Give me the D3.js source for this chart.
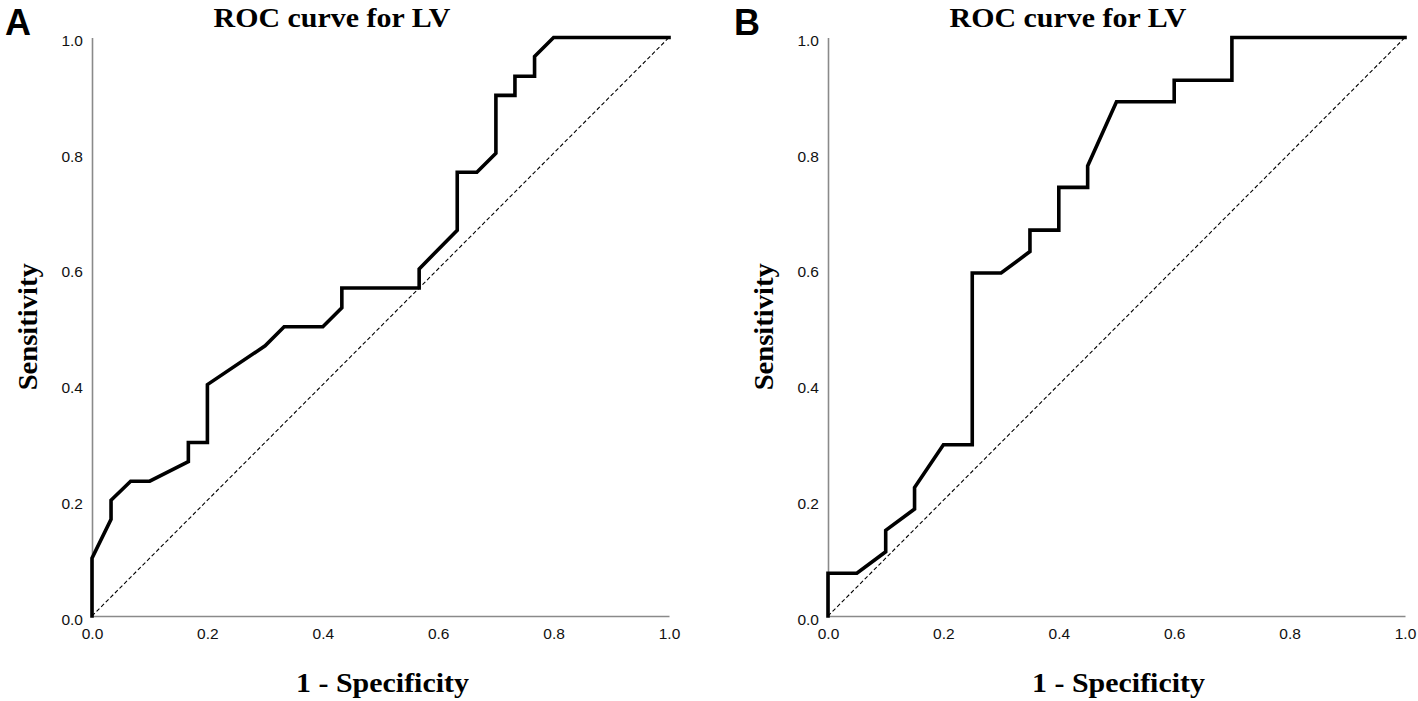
<!DOCTYPE html>
<html>
<head>
<meta charset="utf-8">
<script src="https://cdn.jsdelivr.net/npm/d3@7"></script>
<style>
  html, body { margin: 0; padding: 0; background: #fff; }
  svg { display: block; }
</style>
</head>
<body>
<svg id="chart" width="1418" height="701"></svg>
<script>
// ---- Data ----
const panelLetters = ["A", "B"];
const panelTitles = ["ROC curve for LV", "ROC curve for LV"];
const xAxisTitle = "1 - Specificity";
const yAxisTitle = "Sensitivity";
const tickValues = [0, 0.2, 0.4, 0.6, 0.8, 1.0];

// Panel A ROC curve (1 - specificity, sensitivity)
const rocA_fpr = [0, 0, 0.033, 0.033, 0.067, 0.1, 0.167, 0.167, 0.2, 0.2, 0.3, 0.333, 0.4, 0.433, 0.433, 0.567, 0.567, 0.633, 0.633, 0.667, 0.7, 0.7, 0.733, 0.733, 0.767, 0.767, 0.8, 1.0];
const rocA_tpr = [0, 0.1, 0.167, 0.2, 0.233, 0.233, 0.267, 0.3, 0.3, 0.4, 0.467, 0.5, 0.5, 0.533, 0.567, 0.567, 0.6, 0.667, 0.767, 0.767, 0.8, 0.9, 0.9, 0.933, 0.933, 0.967, 1.0, 1.0];

// Panel B ROC curve
const rocB_fpr = [0, 0, 0.05, 0.1, 0.1, 0.15, 0.15, 0.2, 0.25, 0.25, 0.3, 0.35, 0.35, 0.4, 0.4, 0.45, 0.45, 0.5, 0.6, 0.6, 0.7, 0.7, 1.0];
const rocB_tpr = [0, 0.074, 0.074, 0.111, 0.148, 0.185, 0.222, 0.296, 0.296, 0.593, 0.593, 0.630, 0.667, 0.667, 0.741, 0.741, 0.778, 0.889, 0.889, 0.926, 0.926, 1.0, 1.0];

// Reference line
const diagonal = [0, 1];

// ---- Layout ----
const panels = [
  { letter: panelLetters[0], title: panelTitles[0], fpr: rocA_fpr, tpr: rocA_tpr, left: 92, right: 669, letterX: 5 },
  { letter: panelLetters[1], title: panelTitles[1], fpr: rocB_fpr, tpr: rocB_tpr, left: 828, right: 1405, letterX: 734 }
];
const plotTop = 37.5, plotBottom = 616;

const svg = d3.select("#chart");
svg.append("rect").attr("width", 1418).attr("height", 701).attr("fill", "#fff");

const sans = "'Liberation Sans', Arial, sans-serif";
const serif = "'Liberation Serif', 'Times New Roman', serif";
const stretch = 1.13;

panels.forEach(p => {
  const x = d3.scaleLinear().domain([0, 1]).range([p.left, p.right]);
  const y = d3.scaleLinear().domain([0, 1]).range([plotBottom, plotTop]);
  const g = svg.append("g");

  // axes
  const xAxis = g.append("g").attr("transform", `translate(0,${plotBottom})`)
    .call(d3.axisBottom(x).tickValues(tickValues).tickFormat(d3.format(".1f")).tickSize(0).tickPadding(12));
  const yAxis = g.append("g").attr("transform", `translate(${p.left},0)`)
    .call(d3.axisLeft(y).tickValues(tickValues).tickFormat(d3.format(".1f")).tickSize(0).tickPadding(9));
  [xAxis, yAxis].forEach(a => {
    a.select(".domain").attr("stroke", "#8a8a8a").attr("stroke-width", 1.6);
    a.selectAll("text").attr("font-family", sans).attr("font-size", 15.5).attr("fill", "#111");
  });
  yAxis.selectAll("text").attr("dy", "0.52em");

  // diagonal reference line
  g.append("line")
    .attr("x1", x(diagonal[0])).attr("y1", y(diagonal[0]))
    .attr("x2", x(diagonal[1])).attr("y2", y(diagonal[1]))
    .attr("stroke", "#000").attr("stroke-width", 1.1)
    .attr("stroke-dasharray", "4,2.5");

  // ROC curve
  const pts = p.fpr.map((f, i) => [f, p.tpr[i]]);
  g.append("path")
    .datum(pts)
    .attr("d", d3.line().x(d => x(d[0])).y(d => y(d[1])))
    .attr("fill", "none").attr("stroke", "#000")
    .attr("stroke-width", 3.6).attr("stroke-linejoin", "miter").attr("stroke-linecap", "square");

  // titles
  g.append("text")
    .attr("transform", `translate(${p.left + 240},27) scale(${stretch},1)`)
    .attr("text-anchor", "middle")
    .attr("font-family", serif).attr("font-weight", "bold").attr("font-size", 26.5)
    .text(p.title);

  g.append("text")
    .attr("x", p.letterX).attr("y", 35)
    .attr("font-family", sans).attr("font-weight", "bold").attr("font-size", 36)
    .text(p.letter);

  g.append("text")
    .attr("transform", `translate(${(p.left + p.right) / 2 + 2},692) scale(${stretch},1)`)
    .attr("text-anchor", "middle")
    .attr("font-family", serif).attr("font-weight", "bold").attr("font-size", 26.5)
    .text(xAxisTitle);

  g.append("text")
    .attr("transform", `translate(${p.left - 55},${(plotTop + plotBottom) / 2}) rotate(-90) scale(1.08,1)`)
    .attr("text-anchor", "middle")
    .attr("font-family", serif).attr("font-weight", "bold").attr("font-size", 26.5)
    .text(yAxisTitle);
});
</script>
</body>
</html>
